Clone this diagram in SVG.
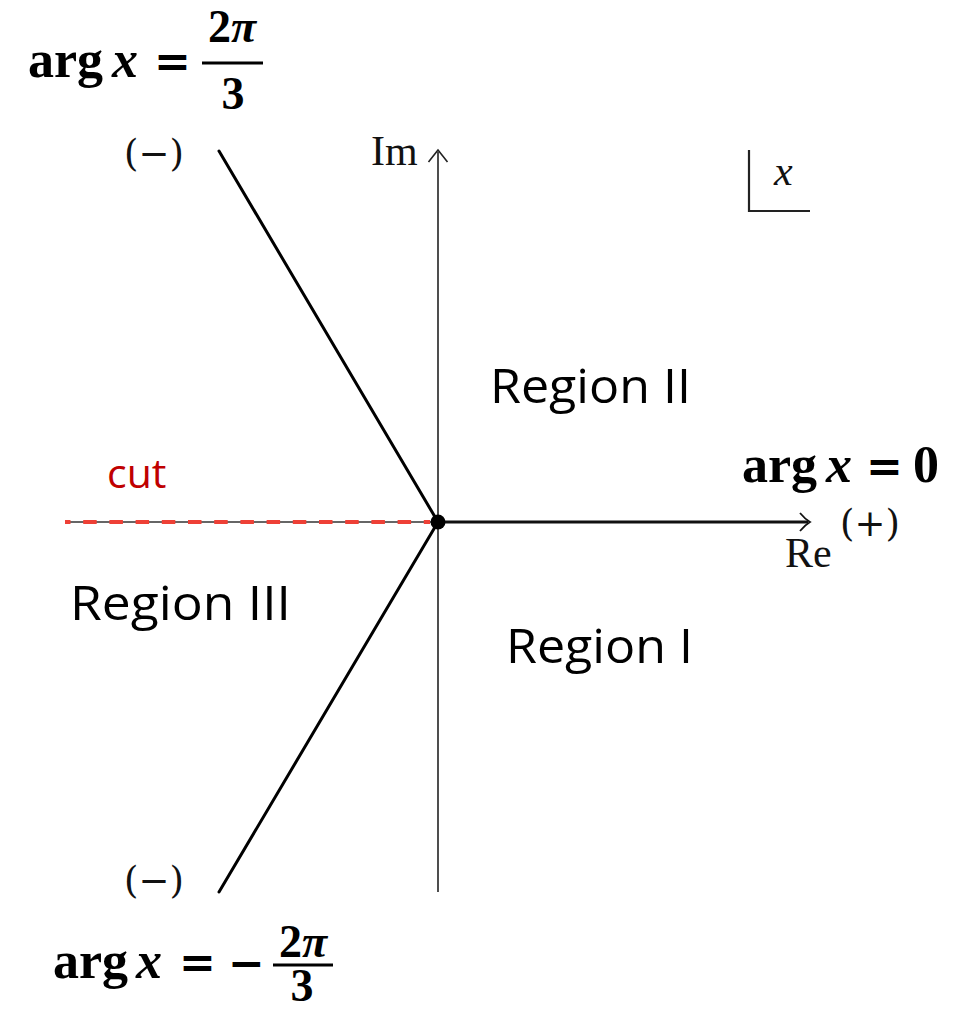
<svg xmlns="http://www.w3.org/2000/svg" width="963" height="1012" viewBox="0 0 963 1012">
<style>
.m{font-family:"Liberation Serif","Times New Roman",serif;font-weight:bold;fill:#000}
.mi{font-family:"Liberation Serif","Times New Roman",serif;font-weight:bold;font-style:italic;fill:#000}
.op{font-family:"DejaVu Serif",serif;font-weight:bold;font-size:44px;fill:#000}
.tex{font-family:"Liberation Serif","DejaVu Serif",serif;font-weight:normal;fill:#111}
.pm{font-family:"DejaVu Serif",serif;font-weight:normal;font-size:37px;fill:#111}
.reg{font-family:"Open Sans","Noto Sans",sans-serif;font-size:47px;fill:#000}
.ray{stroke:#000;stroke-width:3;fill:none;stroke-linecap:round}
.bar{stroke:#000;stroke-width:3}
</style>
<rect width="963" height="1012" fill="#fff"/>
<g id="connectors">
  <line id="im-axis" x1="438" y1="892" x2="438" y2="152" stroke="#222" stroke-width="1.6"/>
  <path id="im-arrow" d="M428.5 162 Q434 155 438 150 Q442 155 447.5 162" fill="none" stroke="#222" stroke-width="1.6"/>
  <line id="re-axis" x1="438" y1="522" x2="808" y2="522" stroke="#111" stroke-width="3"/>
  <path id="re-arrow" d="M800 513 Q805 519 810 522 Q805 525 800 531" fill="none" stroke="#111" stroke-width="1.8"/>
  <line id="ray-upper" class="ray" x1="219" y1="151" x2="438" y2="522"/>
  <line id="ray-lower" class="ray" x1="438" y1="522" x2="219" y2="892"/>
  <line id="cut-base" x1="65" y1="522" x2="438" y2="522" stroke="#333" stroke-width="1.5"/>
  <line id="cut-dash" x1="65" y1="522" x2="430" y2="522" stroke="#ee4036" stroke-width="4" stroke-dasharray="13.5 12.7" stroke-dashoffset="8"/>
  <circle id="origin" cx="438" cy="522" r="7.5" fill="#000"/>
</g>
<g id="axis-labels">
  <text class="tex" x="371" y="165" font-size="42">Im</text>
  <text class="tex" x="785" y="567" font-size="42">Re</text>
  <text class="pm" x="840" y="536">(+)</text>
  <text class="pm" x="124" y="166">(−)</text>
  <text class="pm" x="124" y="893">(−)</text>
</g>
<g id="variable-box">
  <path d="M749 150 V211 H810" fill="none" stroke="#222" stroke-width="2.2"/>
  <text class="tex" x="774" y="185" font-size="42" font-style="italic">x</text>
</g>
<g id="label-upper">
  <text class="m" x="28" y="77" font-size="52">arg</text>
  <text class="mi" x="112" y="77" font-size="52">x</text>
  <text class="op" x="154" y="77">=</text>
  <line class="bar" x1="202" y1="63" x2="263" y2="63"/>
  <text class="m" x="232" y="42" font-size="46" text-anchor="middle">2<tspan class="mi">π</tspan></text>
  <text class="m" x="233" y="109" font-size="46" text-anchor="middle">3</text>
</g>
<g id="label-lower">
  <text class="m" x="53" y="978" font-size="52">arg</text>
  <text class="mi" x="136" y="978" font-size="52">x</text>
  <text class="op" x="179" y="978">=</text>
  <text class="op" x="228" y="978">−</text>
  <line class="bar" x1="273" y1="965" x2="333" y2="965"/>
  <text class="m" x="303" y="957" font-size="46" text-anchor="middle">2<tspan class="mi">π</tspan></text>
  <text class="m" x="302" y="1001" font-size="46" text-anchor="middle">3</text>
</g>
<g id="label-right">
  <text class="m" x="742" y="482" font-size="52">arg</text>
  <text class="mi" x="826" y="482" font-size="52">x</text>
  <text class="op" x="866" y="482">=</text>
  <text class="m" x="913" y="482" font-size="52">0</text>
</g>
<g id="region-2"><text class="reg" x="490" y="403" textLength="201" lengthAdjust="spacingAndGlyphs">Region II</text></g>
<g id="region-3"><text class="reg" x="70" y="620" textLength="221" lengthAdjust="spacingAndGlyphs">Region III</text></g>
<g id="region-1"><text class="reg" x="506" y="663" textLength="187" lengthAdjust="spacingAndGlyphs">Region I</text></g>
<g id="cut-label"><text x="107" y="488" font-family="'Open Sans','Noto Sans',sans-serif" font-size="41" fill="#c00000">cut</text></g>
</svg>
